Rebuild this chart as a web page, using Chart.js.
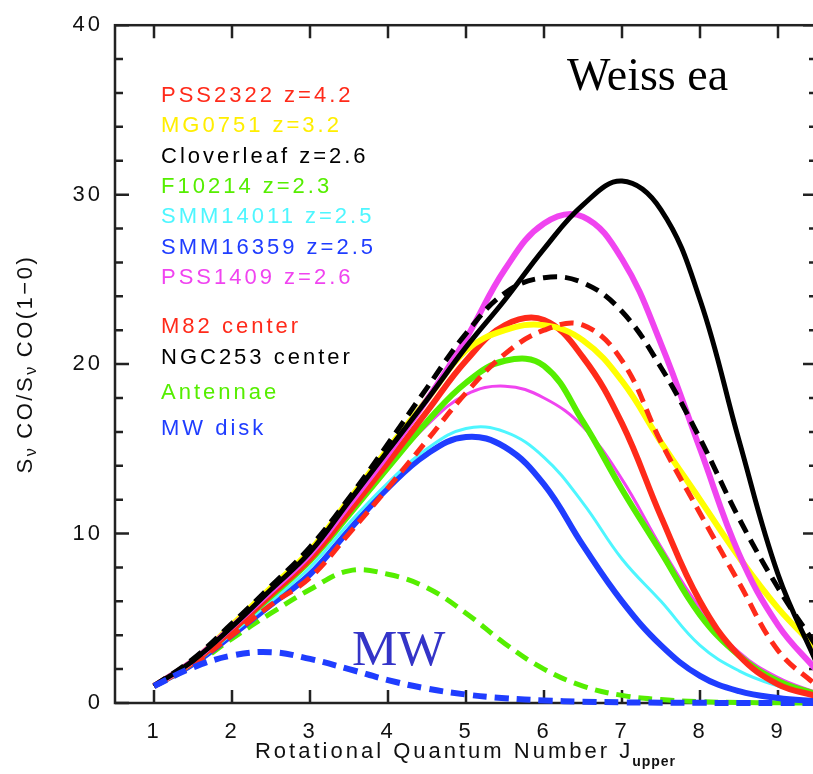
<!DOCTYPE html>
<html>
<head>
<meta charset="utf-8">
<script src="https://cdn.jsdelivr.net/npm/chart.js@4"></script>
<style>
  html, body { margin: 0; padding: 0; background: #fff; overflow: hidden; }
  #wrap { width: 830px; height: 774px; }
</style>
</head>
<body>
<div id="wrap"><canvas id="sled"></canvas></div>
<script>
// J_upper sample points, every half step
const jUpper = [1, 1.5, 2, 2.5, 3, 3.5, 4, 4.5, 5, 5.5, 6, 6.5, 7, 7.5, 8, 8.5, 9, 9.5];

const pss2322    = [1, 2.4, 4.3, 6.4, 8.5, 11.3, 14.2, 17.2, 20.2, 22.3, 22.6, 20.4, 16.5, 11.0, 6.0, 2.8, 1.1, 0.4];
const mg0751     = [1, 2.5, 4.6, 6.8, 9.0, 12.0, 15.0, 17.9, 20.8, 22.0, 22.3, 21.4, 19.0, 15.4, 12.0, 8.6, 5.6, 3.2];
const cloverleaf = [1, 2.5, 4.5, 6.7, 8.9, 11.9, 14.9, 17.9, 21.0, 23.8, 26.8, 29.4, 30.8, 29.1, 23.8, 15.5, 7.6, 2.3];
const f10214     = [1, 2.4, 4.3, 6.3, 8.4, 11.1, 13.9, 16.6, 18.9, 20.2, 19.9, 16.6, 12.6, 8.9, 5.2, 2.8, 1.3, 0.5];
const smm14011   = [1, 2.3, 4.1, 6.0, 8.0, 10.6, 13.0, 15.0, 16.2, 16.0, 14.5, 11.8, 8.5, 6.0, 3.4, 1.9, 1.0, 0.4];
const smm16359   = [1, 2.3, 4.0, 5.8, 7.6, 10.2, 12.7, 14.7, 15.7, 15.1, 12.9, 9.3, 6.0, 3.4, 1.6, 0.7, 0.3, 0.1];
const pss1409    = [1, 2.5, 4.5, 6.6, 8.8, 11.7, 14.7, 17.9, 21.5, 25.6, 28.3, 28.7, 26.2, 21.2, 15.0, 8.8, 4.6, 1.9];
const pss1409b   = [1, 2.4, 4.3, 6.4, 8.4, 11.1, 13.9, 16.4, 18.2, 18.7, 18.0, 16.3, 13.2, 9.2, 5.6, 3.0, 1.5, 0.6];
const m82        = [1, 2.3, 4.0, 5.8, 7.4, 10.0, 12.7, 15.5, 18.3, 20.6, 22.0, 22.3, 20.2, 15.4, 11.2, 7.1, 3.1, 1.0];
const ngc253     = [1, 2.6, 4.7, 6.9, 9.2, 12.1, 15.3, 18.6, 21.8, 24.2, 25.1, 24.8, 23.1, 19.8, 15.6, 10.9, 6.8, 3.3];
const antennae   = [1, 2.2, 3.8, 5.3, 6.7, 7.8, 7.6, 6.8, 5.3, 3.5, 2.0, 1.0, 0.45, 0.2, 0.08, 0.03, 0.01, 0];
const mwDisk     = [1, 2.1, 2.8, 3.0, 2.6, 2.0, 1.35, 0.85, 0.5, 0.28, 0.15, 0.08, 0.04, 0.02, 0.01, 0, 0, 0];

const xTicks = [1, 2, 3, 4, 5, 6, 7, 8, 9];
const yMajorTicks = [0, 10, 20, 30, 40];
const yMinorTicks = [2, 4, 6, 8, 12, 14, 16, 18, 22, 24, 26, 28, 32, 34, 36, 38];

const RED = '#ff2a1a', YELLOW = '#ffff00', BLACK = '#000000', GREEN = '#55ee00',
      CYAN = '#4ef6ff', BLUE = '#1f3dff', MAGENTA = '#f044f0';

const SANS = '"Liberation Sans", Arial, Helvetica, sans-serif';
const SERIF = '"Liberation Serif", "Times New Roman", serif';

// legend rows: label, colour, y
const legendRows = [
    ['PSS2322 z=4.2', RED, 96],
    ['MG0751 z=3.2', '#ffee00', 126],
    ['Cloverleaf z=2.6', BLACK, 157],
    ['F10214 z=2.3', GREEN, 187],
    ['SMM14011 z=2.5', CYAN, 217],
    ['SMM16359 z=2.5', BLUE, 248],
    ['PSS1409 z=2.6', MAGENTA, 278],
    ['M82 center', RED, 327],
    ['NGC253 center', BLACK, 358],
    ['Antennae', GREEN, 393],
    ['MW disk', BLUE, 429]
];

function series(values, color, width, dashed) {
    return {
        data: jUpper.map((j, i) => ({ x: j, y: values[i] })),
        borderColor: color,
        borderWidth: width,
        borderDash: dashed ? [14, 8] : [],
        pointRadius: 0,
        tension: 0.4,
        fill: false,
        clip: 5
    };
}

const framePlugin = {
    id: 'frame',
    beforeDraw(chart) {
        chart.ctx.letterSpacing = '3px';
    },
    beforeDatasetsDraw(chart) {
        const { ctx, chartArea: a, scales: { x, y } } = chart;
        ctx.save();
        ctx.strokeStyle = '#222';
        ctx.lineWidth = 2.5;
        ctx.strokeRect(a.left, a.top, a.right - a.left, a.bottom - a.top);
        ctx.beginPath();
        xTicks.forEach(v => {
            const px = x.getPixelForValue(v);
            ctx.moveTo(px, a.bottom); ctx.lineTo(px, a.bottom - 13);
            ctx.moveTo(px, a.top); ctx.lineTo(px, a.top + 13);
        });
        yMajorTicks.forEach(v => {
            const py = y.getPixelForValue(v);
            ctx.moveTo(a.left, py); ctx.lineTo(a.left + 14, py);
            ctx.moveTo(a.right, py); ctx.lineTo(a.right - 14, py);
        });
        yMinorTicks.forEach(v => {
            const py = y.getPixelForValue(v);
            ctx.moveTo(a.left, py); ctx.lineTo(a.left + 8, py);
            ctx.moveTo(a.right, py); ctx.lineTo(a.right - 8, py);
        });
        ctx.stroke();
        ctx.restore();
    },
    afterDraw(chart) {
        const { ctx, chartArea: a } = chart;
        ctx.save();
        ctx.letterSpacing = '3px';
        ctx.textBaseline = 'middle';
        ctx.textAlign = 'left';

        // legend
        ctx.font = '22px ' + SANS;
        legendRows.forEach(([txt, col, yy]) => {
            ctx.fillStyle = col;
            ctx.fillText(txt, 161, yy);
        });

        // x axis title with subscript
        ctx.fillStyle = '#111';
        const main = 'Rotational Quantum Number J';
        ctx.font = '22px ' + SANS;
        const w1 = ctx.measureText(main).width;
        ctx.font = 'bold 14px ' + SANS;
        ctx.letterSpacing = '1px';
        const w2 = ctx.measureText('upper').width;
        const sx = (a.left + a.right) / 2 - (w1 + w2) / 2;
        ctx.letterSpacing = '3px';
        ctx.font = '22px ' + SANS;
        ctx.fillText(main, sx, 752);
        ctx.letterSpacing = '1px';
        ctx.font = 'bold 14px ' + SANS;
        ctx.fillText('upper', sx + w1 - 1, 762);

        // y axis title, rotated, with nu subscripts
        const parts = [['S', 0], ['\u03bd', 1], [' CO/S', 0], ['\u03bd', 1], [' CO(1\u22120)', 0]];
        ctx.translate(26, (a.top + a.bottom) / 2);
        ctx.rotate(-Math.PI / 2);
        let total = 0;
        parts.forEach(([t, sub]) => {
            ctx.letterSpacing = sub ? '1px' : '2.5px';
            ctx.font = (sub ? '16px ' : '22px ') + SANS;
            total += ctx.measureText(t).width;
        });
        let px = -total / 2;
        parts.forEach(([t, sub]) => {
            ctx.letterSpacing = sub ? '1px' : '2.5px';
            ctx.font = (sub ? '16px ' : '22px ') + SANS;
            ctx.fillText(t, px, sub ? 6 : 0);
            px += ctx.measureText(t).width;
        });
        ctx.restore();

        // annotations
        ctx.save();
        ctx.letterSpacing = '0px';
        ctx.textBaseline = 'alphabetic';
        ctx.textAlign = 'left';
        ctx.font = '46px ' + SERIF;
        ctx.fillStyle = '#000';
        ctx.fillText('Weiss ea', 567, 90);
        ctx.font = '51px ' + SERIF;
        ctx.fillStyle = '#3434c8';
        ctx.fillText('MW', 352, 665);
        ctx.restore();
    }
};

const ctx = document.getElementById('sled').getContext('2d');
new Chart(ctx, {
    type: 'line',
    data: {
        datasets: [
            series(mwDisk, BLUE, 6, true),
            series(cloverleaf, BLACK, 5, false),
            series(ngc253, BLACK, 5, true),
            series(m82, RED, 5, true),
            series(pss1409, MAGENTA, 6, false),
            series(mg0751, YELLOW, 6, false),
            series(pss2322, RED, 6, false),
            series(f10214, GREEN, 6, false),
            series(pss1409b, MAGENTA, 3, false),
            series(smm14011, CYAN, 3, false),
            series(smm16359, BLUE, 6, false),
            series(antennae, GREEN, 5, true)
        ]
    },
    options: {
        responsive: true,
        maintainAspectRatio: false,
        animation: false,
        layout: { padding: { top: 20, right: 13, left: 0, bottom: 0 } },
        scales: {
            x: {
                type: 'linear',
                min: 0.5,
                max: 9.5,
                grid: { display: false, drawTicks: false },
                border: { display: false },
                afterBuildTicks: s => { s.ticks = xTicks.map(v => ({ value: v })); },
                afterFit: s => { s.height = 71; },
                ticks: {
                    padding: 16,
                    color: '#111',
                    font: { family: SANS, size: 22 }
                }
            },
            y: {
                min: 0,
                max: 40,
                grid: { display: false, drawTicks: false },
                border: { display: false },
                afterBuildTicks: s => { s.ticks = yMajorTicks.map(v => ({ value: v })); },
                afterFit: s => { s.width = 115; },
                ticks: {
                    padding: 12,
                    color: '#111',
                    font: { family: SANS, size: 22 }
                }
            }
        },
        plugins: {
            legend: { display: false },
            tooltip: { enabled: false }
        }
    },
    plugins: [framePlugin]
});
</script>
</body>
</html>
